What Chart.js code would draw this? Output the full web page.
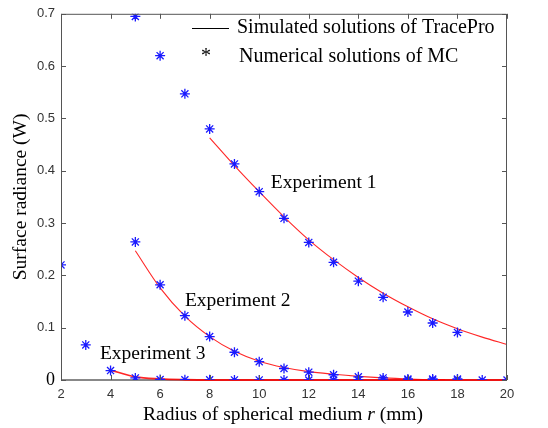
<!DOCTYPE html>
<html>
<head>
<meta charset="utf-8">
<script src="https://cdn.jsdelivr.net/npm/chart.js@4.4.0/dist/chart.umd.min.js"></script>
<style>
html,body{margin:0;padding:0;background:#fff;}
#wrap{width:548px;height:428px;position:relative;}
</style>
</head>
<body>
<div id="wrap"><canvas id="c" width="548" height="428"></canvas></div>
<script>
// ---- data ----
const xTicks = [2, 4, 6, 8, 10, 12, 14, 16, 18, 20];
const yTicks = [0, 0.1, 0.2, 0.3, 0.4, 0.5, 0.6, 0.7];

// Numerical solutions of MC (asterisks)
const mcX1 = [5, 6, 7, 8, 9, 10, 11, 12, 13, 14, 15, 16, 17, 18];
const mcY1 = [0.695, 0.620, 0.547, 0.480, 0.413, 0.360, 0.309, 0.263, 0.225, 0.189, 0.158, 0.130, 0.109, 0.091];
const mcX2 = [5, 6, 7, 8, 9, 10, 11, 12, 13, 14, 15, 16, 17, 18];
const mcY2 = [0.264, 0.182, 0.123, 0.083, 0.053, 0.035, 0.022, 0.015, 0.010, 0.006, 0.004, 0.002, 0.002, 0.002];
const mcX3 = [2, 3, 4, 5, 6, 7, 8, 9, 10, 11, 12, 13, 14, 15, 16, 17, 18, 19, 20];
const mcY3 = [0.220, 0.067, 0.018, 0.004, 0.001, 0.0005, 0.0003, 0.0002, 0.0001, 0, 0, 0, 0, 0, 0, 0, 0, 0, 0];

// Simulated solutions of TracePro (red curves)
const tpX1 = [8, 9, 10, 11, 12, 13, 14, 15, 16, 17, 18, 19, 20];
const tpY1 = [0.463, 0.410, 0.360, 0.312, 0.268, 0.230, 0.196, 0.166, 0.140, 0.117, 0.098, 0.082, 0.068];
const tpX2 = [5, 6, 7, 8, 9, 10, 11, 12, 13, 14, 15, 16, 17, 17.5];
const tpY2 = [0.247, 0.176, 0.122, 0.083, 0.055, 0.036, 0.024, 0.016, 0.011, 0.007, 0.004, 0.002, 0.001, 0.001];
const tpX3 = [4, 5, 6, 7, 8, 10, 12, 14, 16, 18, 20];
const tpY3 = [0.019, 0.006, 0.002, 0.0005, 0, 0, 0, 0, 0, 0, 0];

const legendLabels = ["Simulated solutions of TracePro", "Numerical solutions of MC"];
const expLabels = ["Experiment 1", "Experiment 2", "Experiment 3"];
const expPos = [[10.47, 0.377], [7.0, 0.152], [3.57, 0.049]];

const pts = (xs, ys) => xs.map((x, i) => ({x: x, y: ys[i]}));

const serif = "'Liberation Serif','Times New Roman',serif";
const sans = "'Liberation Sans',Arial,sans-serif";

const mcStyle = {type: 'scatter', showLine: false, pointStyle: 'star', pointRadius: 5,
  borderColor: '#1a1aff', backgroundColor: '#1a1aff', pointBorderWidth: 1.3, order: 1};
const tpStyle = {type: 'line', borderColor: 'rgba(255,0,0,0.85)', borderWidth: 1.1,
  pointRadius: 0, fill: false, cubicInterpolationMode: 'monotone', order: 2, clip: 2};

const frame = {
  id: 'frame',
  beforeDatasetsDraw(chart) {
    const {ctx, chartArea: a} = chart;
    ctx.save();
    ctx.strokeStyle = '#888';
    ctx.lineWidth = 2;
    ctx.beginPath();
    ctx.moveTo(a.left, a.bottom); ctx.lineTo(a.right, a.bottom);
    ctx.stroke();
    ctx.restore();
  },
  afterDatasetsDraw(chart) {
    const {ctx, chartArea: a, scales: {x, y}} = chart;
    ctx.save();
    ctx.strokeStyle = '#555';
    ctx.lineWidth = 1;
    ctx.beginPath();
    ctx.moveTo(a.left + 0.5, a.bottom); ctx.lineTo(a.left + 0.5, a.top + 0.5);
    ctx.lineTo(a.right - 0.5, a.top + 0.5); ctx.lineTo(a.right - 0.5, a.bottom);
    xTicks.forEach(v => {
      const px = Math.round(x.getPixelForValue(v)) + 0.5;
      ctx.moveTo(px, a.bottom); ctx.lineTo(px, a.bottom - 5);
      ctx.moveTo(px, a.top); ctx.lineTo(px, a.top + 5);
    });
    yTicks.forEach(v => {
      const py = Math.round(y.getPixelForValue(v)) + 0.5;
      ctx.moveTo(a.left, py); ctx.lineTo(a.left + 5, py);
      ctx.moveTo(a.right, py); ctx.lineTo(a.right - 5, py);
    });
    ctx.stroke();
    ctx.restore();
  },
  afterDraw(chart) {
    const {ctx, chartArea: a, scales: {x, y}} = chart;
    ctx.save();
    ctx.fillStyle = '#000';
    ctx.textBaseline = 'middle';
    ctx.textAlign = 'left';
    // legend
    ctx.font = '20px ' + serif;
    ctx.strokeStyle = '#000';
    ctx.lineWidth = 1.2;
    ctx.beginPath(); ctx.moveTo(192, 28.5); ctx.lineTo(229, 28.5); ctx.stroke();
    ctx.fillText(legendLabels[0], 237, 28);
    ctx.fillText('*', 201, 57);
    ctx.fillText(legendLabels[1], 239, 57);
    // experiment labels
    ctx.font = '19.5px ' + serif;
    expLabels.forEach((t, i) => {
      ctx.fillText(t, x.getPixelForValue(expPos[i][0]), y.getPixelForValue(expPos[i][1]));
    });
    // x title with italic r
    const fs = '19.5px ';
    const p1 = 'Radius of spherical medium ', p2 = 'r', p3 = ' (mm)';
    ctx.font = fs + serif;
    const w1 = ctx.measureText(p1).width, w3 = ctx.measureText(p3).width;
    ctx.font = 'italic ' + fs + serif;
    const w2 = ctx.measureText(p2).width;
    let sx = 283 - (w1 + w2 + w3) / 2;
    const ty = 415;
    ctx.font = fs + serif; ctx.fillText(p1, sx, ty);
    ctx.font = 'italic ' + fs + serif; ctx.fillText(p2, sx + w1, ty);
    ctx.font = fs + serif; ctx.fillText(p3, sx + w1 + w2, ty);
    // y title
    ctx.translate(21, (a.top + a.bottom) / 2);
    ctx.rotate(-Math.PI / 2);
    ctx.textAlign = 'center';
    ctx.font = fs + serif;
    ctx.fillText('Surface radiance (W)', 0, 0);
    ctx.restore();
  }
};

new Chart(document.getElementById('c'), {
  data: {
    datasets: [
      Object.assign({label: 'TP1', data: pts(tpX1, tpY1)}, tpStyle),
      Object.assign({label: 'TP2', data: pts(tpX2, tpY2)}, tpStyle),
      Object.assign({label: 'TP3', data: pts(tpX3, tpY3)}, tpStyle, {borderWidth: 1.8}),
      Object.assign({label: 'MC1', data: pts(mcX1, mcY1)}, mcStyle),
      Object.assign({label: 'MC2', data: pts(mcX2, mcY2)}, mcStyle),
      Object.assign({label: 'MC3', data: pts(mcX3, mcY3)}, mcStyle)
    ]
  },
  options: {
    responsive: false,
    animation: false,
    layout: {padding: {top: 12, right: 41, left: 0, bottom: 0}},
    plugins: {legend: {display: false}, tooltip: {enabled: false}},
    scales: {
      x: {
        type: 'linear', min: 2, max: 20,
        afterFit(s) { s.height = 48; },
        afterBuildTicks(s) { s.ticks = xTicks.map(v => ({value: v})); },
        grid: {display: false, drawTicks: false}, border: {display: false},
        ticks: {color: '#333', font: {family: sans, size: 13}, padding: 7, maxRotation: 0}
      },
      y: {
        type: 'linear', min: 0, max: 0.7,
        afterFit(s) { s.width = 61; },
        afterBuildTicks(s) { s.ticks = yTicks.map(v => ({value: v})); },
        grid: {display: false, drawTicks: false}, border: {display: false},
        ticks: {
          color: (c) => c.tick && c.tick.value === 0 ? '#000' : '#333',
          font: (c) => c.tick && c.tick.value === 0 ? {family: serif, size: 18} : {family: sans, size: 13},
          padding: 6,
          callback: (v) => v === 0 ? '0' : v.toFixed(1)
        }
      }
    }
  },
  plugins: [frame]
});
</script>
</body>
</html>
